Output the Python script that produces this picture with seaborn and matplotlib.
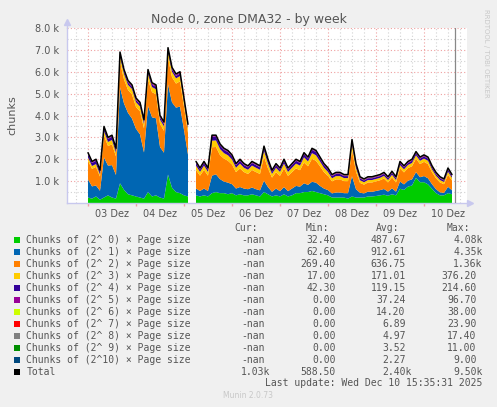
import numpy as np
import seaborn as sns
import matplotlib.pyplot as plt
from matplotlib.patches import Rectangle

nan = np.nan

# hours since 03 Dez 00:00, one sample every 2 hours
hours = np.arange(0, 184, 2)
day_labels = ["03 Dez", "04 Dez", "05 Dez", "06 Dez", "07 Dez", "08 Dez", "09 Dez", "10 Dez"]

# stacked series (chunks)
order0 = [250, 200, 300, 150, 250, 350, 250, 200,
          900, 600, 400, 350, 300, 250, 200, 500, 300, 350, 250, 200, 1300, 700, 500, 450, 350, 300,
          nan,
          350, 300, 350, 300, 450, 500, 450, 450, 400, 450, 350, 400, 350, 350, 400, 350, 300, 500, 400, 300, 350, 300,
          400, 300, 350, 450, 450, 500, 500, 550, 500, 450, 400, 350, 250, 250, 250, 250, 200, 300, 250, 250, 250,
          300, 300, 320, 350, 380, 330, 400, 350, 650, 600, 750, 800, 1150, 950, 950, 850, 650, 450, 350, 350, 450, 400]
order1 = [830, 560, 500, 410, 1830, 1360, 1480, 1080,
          4390, 3950, 3720, 3510, 3090, 2890, 2110, 3940, 3620, 3520, 2310, 2100, 4130, 3900, 3860, 3960, 2990, 1910,
          nan,
          310, 250, 310, 250, 800, 810, 640, 530, 530, 410, 310, 330, 310, 280, 310, 280, 280, 520, 330, 210, 310, 240,
          330, 240, 310, 330, 300, 400, 330, 420, 430, 330, 260, 240, 190, 230, 230, 200, 250, 930, 380, 220, 190,
          220, 210, 230, 240, 260, 190, 270, 170, 330, 250, 270, 280, 260, 230, 280, 280, 210, 180, 140, 110, 290, 180]
order2 = [850, 800, 850, 650, 1000, 900, 950, 850,
          1150, 1100, 1050, 1100, 1000, 1050, 1100, 1200, 1150, 1100, 1050, 1000, 1200, 1150, 1100, 1150, 1050, 1000,
          nan,
          850, 700, 850, 700, 1300, 1250, 1100, 1050, 1000, 900, 750, 850, 750, 700, 800, 780, 750, 1100, 850, 650, 750, 700,
          850, 700, 750, 800, 750, 950, 850, 1050, 1000, 900, 750, 650, 550, 600, 600, 550, 550, 1200, 800, 450, 400,
          420, 430, 440, 450, 480, 420, 500, 420, 600, 550, 580, 600, 620, 600, 650, 650, 550, 500, 450, 400, 550, 450]
order3 = [150, 130, 130, 100, 200, 180, 200, 170,
          250, 250, 230, 250, 220, 220, 200, 250, 230, 230, 200, 200, 260, 250, 240, 240, 220, 200,
          nan,
          200, 170, 200, 170, 300, 300, 280, 250, 250, 230, 200, 220, 200, 190, 200, 200, 190, 260, 220, 170, 200, 180,
          220, 180, 200, 220, 210, 240, 220, 260, 250, 220, 200, 180, 140, 150, 150, 140, 140, 250, 180, 120, 110,
          110, 110, 110, 110, 120, 110, 120, 110, 150, 140, 140, 150, 150, 150, 150, 150, 130, 120, 110, 100, 140, 120]
order4 = [150, 140, 150, 120, 150, 140, 150, 130,
          120, 110, 110, 100, 100, 100, 100, 120, 110, 110, 100, 110, 120, 110, 110, 110, 100, 100,
          nan,
          120, 110, 120, 110, 180, 170, 160, 150, 150, 140, 120, 130, 120, 110, 120, 120, 110, 150, 130, 100, 120, 110,
          130, 110, 120, 130, 120, 140, 130, 150, 150, 130, 120, 110, 100, 100, 100, 90, 90, 150, 120, 90, 80,
          80, 80, 80, 80, 90, 80, 90, 80, 100, 90, 90, 100, 100, 100, 100, 100, 90, 80, 80, 70, 100, 80]
order5 = [40, 38, 42, 36, 44, 40, 42, 40,
          55, 55, 52, 55, 50, 55, 52, 58, 55, 55, 52, 50, 60, 55, 55, 55, 52, 50,
          nan,
          40, 38, 40, 38, 45, 45, 42, 40, 40, 40, 38, 40, 38, 38, 40, 38, 38, 42, 40, 36, 38, 38,
          40, 38, 38, 40, 40, 42, 40, 42, 42, 40, 38, 36, 34, 35, 35, 34, 34, 42, 38, 34, 32,
          34, 34, 34, 35, 36, 34, 36, 34, 40, 38, 38, 40, 40, 40, 40, 40, 38, 36, 34, 32, 38, 34]
order6 = [14, 13, 14, 12, 15, 14, 15, 14,
          18, 18, 17, 18, 17, 18, 17, 19, 18, 18, 17, 17, 20, 18, 18, 18, 17, 17,
          nan,
          14, 13, 14, 13, 16, 16, 15, 14, 14, 14, 13, 14, 13, 13, 14, 13, 13, 15, 14, 12, 13, 13,
          14, 13, 13, 14, 14, 15, 14, 15, 15, 14, 13, 12, 11, 12, 12, 11, 11, 15, 13, 11, 10,
          11, 11, 11, 12, 12, 11, 12, 11, 14, 13, 13, 14, 14, 14, 14, 14, 13, 12, 11, 10, 13, 11]
order7 = [7, 7, 7, 6, 8, 7, 8, 7,
          8, 8, 8, 8, 8, 8, 8, 9, 8, 8, 8, 8, 9, 8, 8, 8, 8, 8,
          nan,
          7, 6, 7, 6, 8, 8, 7, 7, 7, 7, 6, 7, 6, 6, 7, 6, 6, 7, 7, 6, 6, 6,
          7, 6, 6, 7, 7, 7, 7, 7, 7, 7, 6, 6, 5, 6, 6, 5, 5, 7, 6, 5, 5,
          5, 5, 5, 6, 6, 5, 6, 5, 7, 6, 6, 7, 7, 7, 7, 7, 6, 6, 5, 5, 6, 5]
order8 = [5, 5, 5, 4, 5, 5, 5, 5,
          5, 5, 5, 5, 5, 5, 5, 6, 5, 5, 5, 5, 6, 5, 5, 5, 5, 5,
          nan,
          5, 4, 5, 4, 6, 6, 5, 5, 5, 5, 4, 5, 4, 4, 5, 4, 4, 5, 5, 4, 4, 4,
          5, 4, 4, 5, 5, 5, 5, 5, 5, 5, 4, 4, 4, 4, 4, 4, 4, 5, 4, 4, 4,
          4, 4, 4, 4, 4, 4, 4, 4, 5, 5, 5, 5, 5, 5, 5, 5, 5, 4, 4, 4, 5, 4]
order9 = [3, 3, 3, 3, 3, 3, 3, 3,
          3, 3, 3, 3, 3, 3, 3, 4, 3, 3, 3, 3, 4, 3, 3, 3, 3, 3,
          nan,
          3, 3, 3, 3, 4, 4, 3, 3, 3, 3, 3, 3, 3, 3, 3, 3, 3, 4, 3, 3, 3, 3,
          3, 3, 3, 3, 3, 4, 3, 4, 4, 3, 3, 3, 3, 3, 3, 3, 3, 4, 3, 3, 3,
          3, 3, 3, 3, 3, 3, 3, 3, 4, 4, 4, 4, 4, 4, 4, 4, 3, 3, 3, 3, 4, 3]
order10 = [1, 1, 2, 1, 2, 2, 2, 1,
           2, 2, 2, 2, 2, 2, 2, 2, 2, 2, 2, 2, 3, 2, 2, 2, 2, 2,
           nan,
           1, 1, 2, 1, 2, 2, 2, 2, 2, 2, 1, 2, 1, 1, 2, 1, 1, 2, 2, 1, 1, 1,
           2, 1, 1, 2, 2, 2, 2, 2, 2, 2, 1, 1, 1, 1, 1, 1, 1, 2, 1, 1, 1,
           1, 1, 1, 1, 1, 1, 1, 1, 2, 2, 2, 2, 2, 2, 2, 2, 1, 1, 1, 1, 2, 1]
total = [2300, 1900, 2000, 1500, 3500, 3000, 3100, 2500,
         6900, 6100, 5600, 5400, 4800, 4600, 3800, 6100, 5500, 5400, 4000, 3700, 7100, 6200, 5900, 6000, 4800, 3600,
         nan,
         1900, 1600, 1900, 1600, 3100, 3100, 2700, 2500, 2400, 2200, 1800, 2000, 1800, 1700, 1900, 1800, 1700, 2600,
         2000, 1500, 1800, 1600, 2000, 1600, 1800, 2000, 1900, 2300, 2100, 2500, 2400, 2100, 1800, 1600, 1300, 1400,
         1400, 1300, 1300, 2900, 1800, 1200, 1100,
         1200, 1200, 1250, 1300, 1400, 1200, 1450, 1200, 1900, 1700, 1900, 2000, 2350, 2100, 2200, 2100, 1700, 1400,
         1200, 1100, 1600, 1300]

series_names = ["Chunks of (2^ 0) × Page size", "Chunks of (2^ 1) × Page size", "Chunks of (2^ 2) × Page size",
                "Chunks of (2^ 3) × Page size", "Chunks of (2^ 4) × Page size", "Chunks of (2^ 5) × Page size",
                "Chunks of (2^ 6) × Page size", "Chunks of (2^ 7) × Page size", "Chunks of (2^ 8) × Page size",
                "Chunks of (2^ 9) × Page size", "Chunks of (2^10) × Page size", "Total"]
series_colors = ["#00CC00", "#0066B3", "#FF8000", "#FFCC00", "#330099", "#990099",
                 "#CCFF00", "#FF0000", "#808080", "#008F00", "#00487D", "#000000"]
cur_vals = ["-nan"] * 11 + ["1.03k"]
min_vals = ["32.40", "62.60", "269.40", "17.00", "42.30", "0.00", "0.00", "0.00", "0.00", "0.00", "0.00", "588.50"]
avg_vals = ["487.67", "912.61", "636.75", "171.01", "119.15", "37.24", "14.20", "6.89", "4.97", "3.52", "2.27", "2.40k"]
max_vals = ["4.08k", "4.35k", "1.36k", "376.20", "214.60", "96.70", "38.00", "23.90", "17.40", "11.00", "9.00", "9.50k"]

stack = [order0, order1, order2, order3, order4, order5, order6, order7, order8, order9, order10]

W, H = 497, 407
BG = "#F0F0F0"
TXT = "#555555"

sns.set_theme(style="white")
plt.rcParams["font.family"] = ["DejaVu Sans"]

fig = plt.figure(figsize=(W / 100, H / 100), dpi=100, facecolor=BG)
ax = fig.add_axes([67 / W, 1 - 203 / H, 400 / W, 175 / H])
ax.set_facecolor("white")

# grid (drawn by hand so minor and major styles differ)
xlo, xhi = -10.5, 189.5
for h in np.arange(-6, 190, 6):
    if h % 24:
        ax.axvline(h, color="#D2D2D2", lw=0.8, ls=(0, (1, 2)), zorder=0)
for v in np.arange(500, 8001, 1000):
    ax.axhline(v, color="#D2D2D2", lw=0.8, ls=(0, (1, 2)), zorder=0)
for h in np.arange(0, 190, 24):
    ax.axvline(h, color="#EFA0A0", lw=0.8, ls=(0, (1, 2)), zorder=0.5)
for v in np.arange(1000, 8001, 1000):
    ax.axhline(v, color="#EFA0A0", lw=0.8, ls=(0, (1, 2)), zorder=0.5)

base = np.zeros(len(hours))
for vals, col in zip(stack, series_colors):
    top = base + np.array(vals, dtype=float)
    ax.fill_between(hours, base, top, color=col, lw=0, zorder=2)
    base = top
ax.plot(hours, total, color="black", lw=1.1, zorder=3)
ax.axvline(183.5, color="#888888", lw=0.9, zorder=3)

ax.set_xlim(xlo, xhi)
ax.set_ylim(0, 8000)

for s in ["top", "right"]:
    ax.spines[s].set_visible(False)
for s in ["left", "bottom"]:
    ax.spines[s].set_color("#C8C8EE")
    ax.spines[s].set_linewidth(1.0)
ax.plot([0, 0], [1, 1.035], transform=ax.transAxes, color="#C8C8EE", lw=1, clip_on=False)
ax.plot([0], [1.035], transform=ax.transAxes, marker="^", ms=4, color="#C8C8EE", clip_on=False)
ax.plot([1, 1.008], [0, 0], transform=ax.transAxes, color="#C8C8EE", lw=1, clip_on=False)
ax.plot([1.008], [0], transform=ax.transAxes, marker=">", ms=4, color="#C8C8EE", clip_on=False)

ax.set_yticks(np.arange(1000, 8001, 1000))
ax.set_yticklabels([f"{v / 1000:.1f} k" for v in np.arange(1000, 8001, 1000)])
ax.set_xticks(np.arange(12, 190, 24))
ax.set_xticklabels(day_labels)
ax.set_xticks(np.arange(0, 190, 24), minor=True)
ax.tick_params(axis="both", which="major", length=0, labelsize=7, labelcolor=TXT, pad=4)
ax.tick_params(axis="x", which="minor", length=2, color="#EFA0A0", bottom=True)
ax.tick_params(axis="y", pad=6)

fig.text(248.5 / W, 1 - 19 / H, "Node 0, zone DMA32 - by week", ha="center", va="center",
         fontsize=9, color=TXT)
fig.text(12 / W, 1 - 115 / H, "chunks", rotation=90, ha="center", va="center", fontsize=8, color=TXT)
fig.text(486 / W, 1 - 53 / H, "RRDTOOL / TOBI OETIKER", rotation=270, ha="center", va="center",
         fontsize=5, color="#C8C8C8")

# legend block, monospace like rrdtool
mono = dict(family="DejaVu Sans Mono", fontsize=7, color=TXT, va="center")
cw = 5.85
for label, xe in zip(["Cur:", "Min:", "Avg:", "Max:"], [258, 329, 399.5, 470]):
    fig.text(xe / W, 1 - 227.5 / H, label, ha="right", **mono)
for i, name in enumerate(series_names):
    y = 240 + 12 * i
    fig.patches.append(Rectangle((14 / W, 1 - (y + 3) / H), 6 / W, 6 / H, transform=fig.transFigure,
                                 facecolor=series_colors[i], edgecolor="none"))
    fig.text(26.3 / W, 1 - y / H, name, ha="left", **mono)
    for vals, xe in zip([cur_vals, min_vals, avg_vals, max_vals], [264.3, 336, 405.7, 476.7]):
        s = vals[i]
        x = xe + cw if s.endswith("k") else xe
        fig.text(x / W, 1 - y / H, s, ha="right", **mono)
fig.text(482.7 / W, 1 - 383.5 / H, "Last update: Wed Dec 10 15:35:31 2025", ha="right", **mono)
fig.text(248 / W, 1 - 396 / H, "Munin 2.0.73", ha="center", va="center", fontsize=5.5, color="#C8C8C8")

fig.savefig("out.png", dpi=100, facecolor=BG)
